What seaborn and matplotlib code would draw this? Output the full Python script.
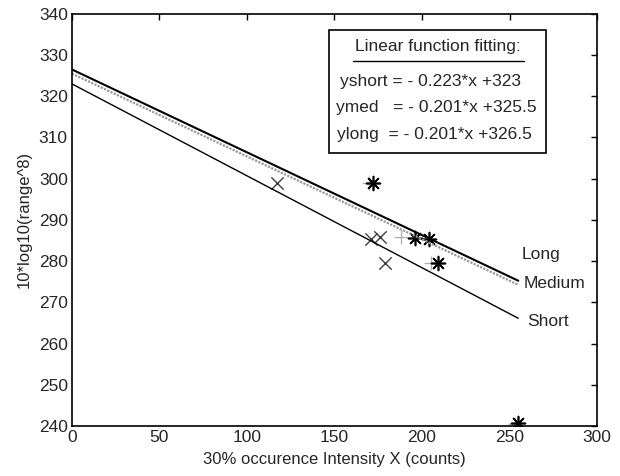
import matplotlib
matplotlib.use("Agg")
import matplotlib.pyplot as plt
import seaborn as sns
import pandas as pd
import numpy as np
from matplotlib.patches import Rectangle

# ---- data ----
fit_names = ["Short", "Medium", "Long"]
fit_slopes = [-0.223, -0.201, -0.201]
fit_intercepts = [323.0, 325.5, 326.5]
fit_x_range = [0, 255]

short_x = [117, 171, 176, 179]
short_y = [299, 285.3, 285.8, 279.5]
medium_x = [170, 188, 205, 253]
medium_y = [299, 285.8, 279.5, 240.5]
long_x = [172, 196, 204, 209, 255]
long_y = [299, 285.6, 285.3, 279.5, 240.8]

x_ticks = [0, 50, 100, 150, 200, 250, 300]
y_ticks = [240, 250, 260, 270, 280, 290, 300, 310, 320, 330, 340]

sns.set_style("white")
plt.rcParams["font.family"] = ["Liberation Sans", "DejaVu Sans"]

fig = plt.figure(figsize=(6.2, 4.76), dpi=100)
ax = fig.add_axes([0.116, 0.105, 0.847, 0.866])

rows = []
for n, s, b in zip(fit_names, fit_slopes, fit_intercepts):
    for xv in fit_x_range:
        rows.append({"series": n, "x": xv, "y": s * xv + b})
lines = pd.DataFrame(rows)

line_styles = {"Short": dict(color="black", lw=1.0, ls="-"),
               "Medium": dict(color="0.6", lw=1.6, ls=(0, (1, 0.6))),
               "Long": dict(color="black", lw=1.5, ls="-")}
for n in fit_names:
    d = lines[lines.series == n]
    st = line_styles[n]
    sns.lineplot(data=d, x="x", y="y", ax=ax, color=st["color"],
                 linewidth=st["lw"], linestyle=st["ls"], legend=False)

sdf = pd.DataFrame({"x": short_x, "y": short_y})
mdf = pd.DataFrame({"x": medium_x, "y": medium_y})
ldf = pd.DataFrame({"x": long_x, "y": long_y})
sns.scatterplot(data=sdf, x="x", y="y", ax=ax, marker="x", s=80,
                color="0.25", linewidth=1.0, legend=False)
sns.scatterplot(data=mdf, x="x", y="y", ax=ax, marker="+", s=90,
                color="0.7", linewidth=1.0, legend=False)
sns.scatterplot(data=ldf, x="x", y="y", ax=ax, marker=(8, 2, 0), s=100,
                color="black", edgecolor="black", linewidth=1.2, legend=False)

ax.text(257, 281.7, "Long", fontsize=12.5, va="center", ha="left")
ax.text(258, 274.6, "Medium", fontsize=12.5, va="center", ha="left")
ax.text(260, 265.4, "Short", fontsize=12.5, va="center", ha="left")

# equation box
box = Rectangle((0.49, 0.663), 0.413, 0.298, transform=ax.transAxes,
                fill=True, facecolor="white", edgecolor="black", lw=1.2, zorder=5)
ax.add_patch(box)
ax.text(0.696, 0.92, "Linear function fitting:", transform=ax.transAxes,
        ha="center", va="center", fontsize=12.5, zorder=6)
ax.plot([0.535, 0.86], [0.885, 0.885], transform=ax.transAxes, color="black",
        lw=1.0, zorder=6)
eqs = ["yshort = - 0.223*x +323", "ymed   = - 0.201*x +325.5", "ylong  = - 0.201*x +326.5"]
eq_y = [0.836, 0.772, 0.706]
eq_x = [0.511, 0.502, 0.505]
for t, xx, yy in zip(eqs, eq_x, eq_y):
    ax.text(xx, yy, t, transform=ax.transAxes, ha="left", va="center",
            fontsize=12.5, zorder=6)

ax.set_xlim(0, 300)
ax.set_ylim(240, 340)
ax.set_xticks(x_ticks)
ax.set_yticks(y_ticks)
ax.tick_params(direction="in", length=4, top=True, right=True, labelsize=12.5,
               width=1, color="black", pad=3)
for sp in ax.spines.values():
    sp.set_visible(True)
    sp.set_color("black")
    sp.set_linewidth(1.2)
ax.set_xlabel("30% occurence Intensity X (counts)", fontsize=12, labelpad=5)
ax.set_ylabel("10*log10(range^8)", fontsize=12, labelpad=5)

fig.savefig("out.png", dpi=100)
